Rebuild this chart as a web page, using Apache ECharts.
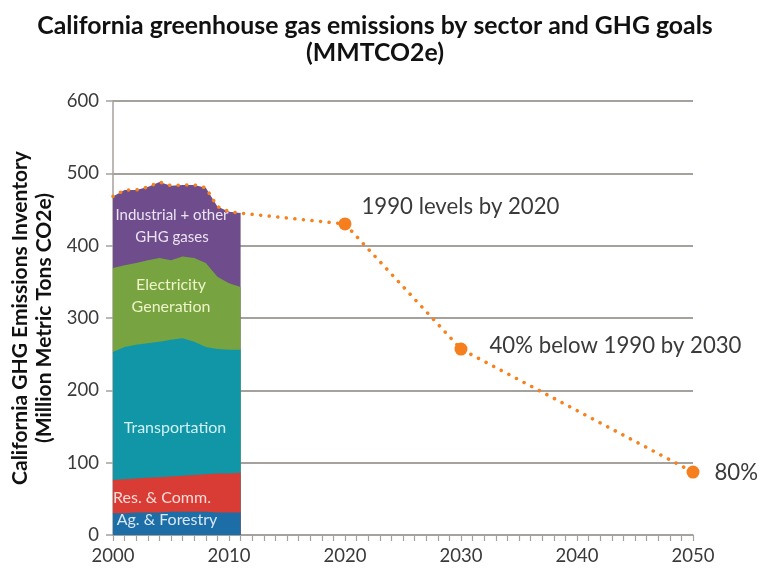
<!DOCTYPE html>
<html>
<head>
<meta charset="utf-8">
<script src="https://cdn.jsdelivr.net/npm/echarts@6/dist/echarts.min.js"></script>
<style>html,body{margin:0;padding:0;background:#fff}#c{width:760px;height:571px}</style>
</head>
<body>
<div id="c"></div>
<script>
// ---- data ----
var years = [2000,2001,2002,2003,2004,2005,2006,2007,2008,2009,2010,2011];
var agForestry = [30,30,31,31,31,32,32,32,32,31,31,31];
var resComm = [46,47,47,48,49,49,50,51,52,54,54,55];
var transportation = [177,183,185,186,187,189,190,184,176,172,171,170];
var electricity = [116,113,113,115,116,110,113,116,116,100,92,87];
var industrial = [99,104,101,101,105,103,99,101,104,97,99,102];
var goalYears = [2020, 2030, 2050];
var goalValues = [430, 257, 87];
var goalLabels = ['1990 levels by 2020', '40% below 1990 by 2030', '80%'];
var xTicks = [2000, 2010, 2020, 2030, 2040, 2050];
var yTicks = [0, 100, 200, 300, 400, 500, 600];

var FONT = 'Lato, "Open Sans", sans-serif';
var labelIdx = 5;

// cumulative stacking (bottom to top)
var layers = [agForestry, resComm, transportation, electricity, industrial];
var cum = [];
layers.forEach(function (arr, k) {
  cum.push(arr.map(function (v, i) { return v + (k > 0 ? cum[k - 1][i] : 0); }));
});
var totals = cum[cum.length - 1];

function sector(name, values, color, text, textColor, offset, z, fs) {
  return {
    name: name, type: 'line',
    symbol: 'circle', symbolSize: 0.5, showSymbol: true,
    itemStyle: { color: color },
    lineStyle: { width: 0 },
    areaStyle: { color: color, opacity: 1, origin: 'start' },
    emphasis: { disabled: true },
    silent: true,
    z: z,
    data: values.map(function (v, i) {
      var item = { value: [years[i], v] };
      if (i === labelIdx) {
        item.label = {
          show: true, position: 'inside', offset: offset,
          formatter: text, color: textColor, fontFamily: FONT,
          fontSize: fs || 16, lineHeight: 22, align: 'center'
        };
      }
      return item;
    })
  };
}

var goalData = years.map(function (y, i) {
  return { value: [y, totals[i]], symbolSize: 0 };
});
var goalOffsets = [[5, -17], [17, -3], [10, 1]];
goalYears.forEach(function (y, i) {
  goalData.push({
    value: [y, goalValues[i]], symbolSize: 13,
    label: {
      show: true, position: 'right', offset: goalOffsets[i],
      formatter: goalLabels[i], color: '#3a3a3a', fontFamily: FONT, fontSize: 22.2
    }
  });
});

var chart = echarts.init(document.getElementById('c'), null, { renderer: 'canvas' });
chart.setOption({
  animation: false,
  backgroundColor: '#fff',
  title: {
    text: 'California greenhouse gas emissions by sector and GHG goals\n(MMTCO2e)',
    left: 370, textAlign: 'center', top: 8,
    textStyle: { fontFamily: FONT, fontWeight: 'bold', fontSize: 24.8, lineHeight: 27, color: '#111' }
  },
  grid: { left: 113, right: 67, top: 101, bottom: 36, containLabel: false, outerBoundsMode: 'none' },
  xAxis: {
    type: 'value', min: 2000, max: 2050, interval: 10,
    axisLine: { show: true, lineStyle: { color: '#a5a19c', width: 1.5 } },
    axisTick: { show: true, length: 6, lineStyle: { color: '#a5a19c', width: 1.2 } },
    minorTick: { show: true, splitNumber: 10, length: 6, lineStyle: { color: '#a5a19c', width: 1.2 } },
    splitLine: { show: false },
    axisLabel: {
      color: '#3a3a3a', fontFamily: FONT, fontSize: 18.5, margin: 12,
      customValues: xTicks, formatter: function (v) { return String(v); }
    }
  },
  yAxis: {
    type: 'value', min: 0, max: 600, interval: 100,
    name: 'California GHG Emissions Inventory\n(Million Metric Tons CO2e)',
    nameLocation: 'middle', nameGap: 50, nameRotate: 90,
    nameTextStyle: { fontFamily: FONT, fontWeight: 'bold', fontSize: 21, lineHeight: 24, color: '#111' },
    axisLine: { show: true, lineStyle: { color: '#a5a19c', width: 1.5 } },
    axisTick: { show: true, length: 7, lineStyle: { color: '#a5a19c', width: 1.5 } },
    splitLine: { show: true, lineStyle: { color: '#a5a19c', width: 1.8 } },
    axisLabel: {
      color: '#3a3a3a', fontFamily: FONT, fontSize: 18.5, margin: 14,
      customValues: yTicks, formatter: function (v) { return String(v); }
    }
  },
  series: [
    sector('Industrial + other GHG gases', cum[4], '#6f4c8b', 'Industrial + other\nGHG gases', '#ebe3f3', [1, 41], 2, 15),
    sector('Electricity Generation', cum[3], '#77a441', 'Electricity\nGeneration', '#eef3c8', [0, 36], 3),
    sector('Transportation', cum[2], '#1096a6', 'Transportation', '#d2f0f3', [4, 88], 4),
    sector('Res. & Comm.', cum[1], '#d93b35', 'Res. & Comm.', '#fbdcd8', [-9, 21], 5),
    sector('Ag. & Forestry', cum[0], '#1d6da6', 'Ag. & Forestry', '#d8e8f6', [-4, 8], 6),
    {
      name: 'Goals', type: 'line', symbol: 'circle', showSymbol: true,
      itemStyle: { color: '#f57f1f' },
      lineStyle: { color: '#f5821f', width: 3.5, type: [0.1, 8.5], cap: 'round' },
      emphasis: { disabled: true }, silent: true, z: 10,
      data: goalData
    }
  ]
});
</script>
</body>
</html>
